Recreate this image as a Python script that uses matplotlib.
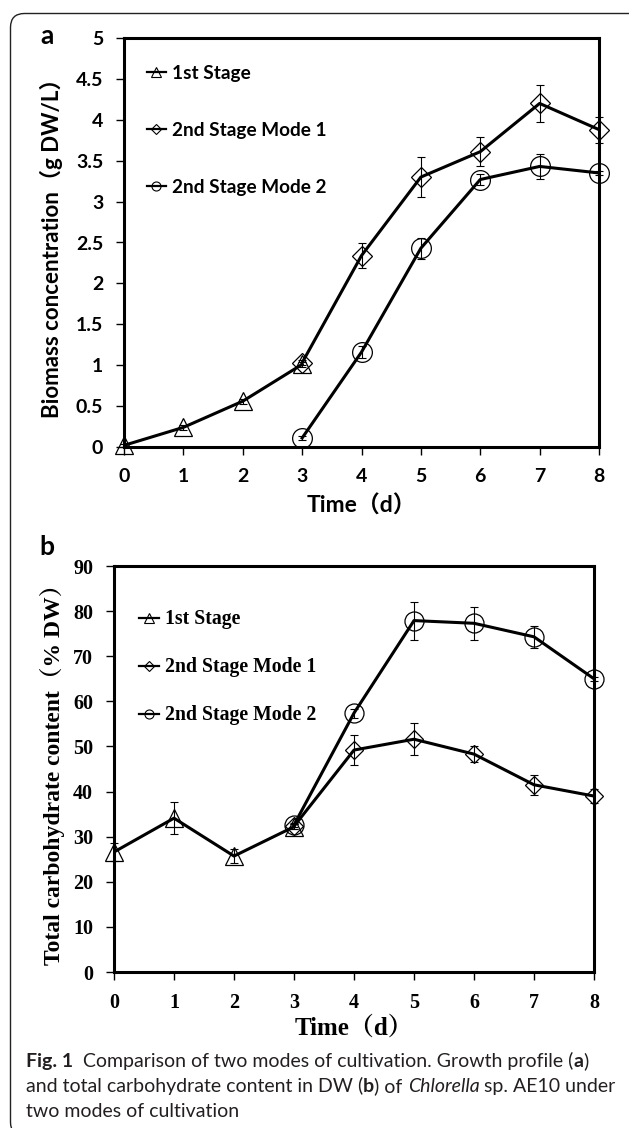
import matplotlib
matplotlib.use('Agg')
import matplotlib.pyplot as plt
from matplotlib.patches import FancyBboxPatch
from matplotlib.lines import Line2D
from matplotlib.transforms import IdentityTransform

# ---- data ----
days_first = [0, 1, 2, 3]
days_second = [3, 4, 5, 6, 7, 8]

# (a) biomass, g DW/L
biomass_stage1 = [0.02, 0.24, 0.56, 1.01]
biomass_stage1_err = [0.02, 0.03, 0.03, 0.03]
biomass_mode1 = [1.03, 2.34, 3.30, 3.61, 4.20, 3.88]
biomass_mode1_err = [0.03, 0.15, 0.24, 0.18, 0.23, 0.16]
biomass_mode2 = [0.11, 1.16, 2.43, 3.27, 3.43, 3.35]
biomass_mode2_err = [0.02, 0.07, 0.13, 0.07, 0.15, 0.02]

# (b) carbohydrate, % DW
carb_stage1 = [26.6, 34.1, 25.7, 32.2]
carb_stage1_err = [2.0, 3.6, 1.6, 0.5]
carb_mode1 = [32.3, 49.2, 51.6, 48.3, 41.5, 39.0]
carb_mode1_err = [0.5, 3.4, 3.5, 1.8, 2.2, 1.5]
carb_mode2 = [32.6, 57.4, 77.9, 77.3, 74.3, 65.0]
carb_mode2_err = [0.5, 1.0, 4.2, 3.6, 2.5, 0.5]

labels = ['1st Stage', '2nd Stage Mode 1', '2nd Stage Mode 2']
x_ticks = [0, 1, 2, 3, 4, 5, 6, 7, 8]
a_yticks = [0, 0.5, 1, 1.5, 2, 2.5, 3, 3.5, 4, 4.5, 5]
a_yticklabels = ['0', '0.5', '1', '1.5', '2', '2.5', '3', '3.5', '4', '4.5', '5']
b_yticks = [0, 10, 20, 30, 40, 50, 60, 70, 80, 90]

W, H = 629, 1128
SANS = ['Lato', 'Noto Sans CJK SC']
SERIF = ['Liberation Serif', 'Noto Serif CJK SC', 'Noto Sans CJK SC']
CAP = ['Lato', 'DejaVu Sans']


def style_axes(ax, family, size):
    for s in ax.spines.values():
        s.set_linewidth(2.2)
    ax.tick_params(direction='out', length=6, width=1.0, pad=9, labelsize=size)
    ax.tick_params(axis='both', which='both', top=False, right=False)
    for lab in ax.get_xticklabels() + ax.get_yticklabels():
        lab.set_fontfamily(family)
        lab.set_fontweight('bold')


def points(ax, xs, ys, err, marker, ms):
    ax.errorbar(xs, ys, yerr=err, fmt='none', ecolor='black', elinewidth=0.8,
                capsize=3, capthick=0.8, zorder=3, clip_on=False)
    ax.plot(xs, ys, linestyle='none', marker=marker, ms=ms, mfc='none',
            mec='black', mew=0.9, zorder=4, clip_on=False)


def legend(ax, family, size, spacing, anchor):
    handles = []
    for m in ['^', 'D', 'o']:
        handles.append(Line2D([], [], color='black', lw=1.6, marker=m,
                              ms=5 if m == 'D' else 6.5,
                              mfc='none', mec='black', mew=0.8))
    leg = ax.legend(handles, labels, loc='upper left', bbox_to_anchor=anchor,
                    frameon=False, handlelength=1.0, handletextpad=0.3,
                    labelspacing=spacing, borderpad=0, borderaxespad=0,
                    prop={'family': family, 'weight': 'bold', 'size': size})
    return leg


fig = plt.figure(figsize=(W / 100, H / 100), dpi=100)

# ---------------- panel a ----------------
ax1 = fig.add_axes([124 / W, 1 - 447 / H, 475 / W, 409 / H])
ax1.set_xlim(0, 8)
ax1.set_ylim(0, 5)
ax1.plot(days_first, biomass_stage1, color='black', lw=2.2, zorder=2)
ax1.plot(days_second, biomass_mode1, color='black', lw=2.2, zorder=2)
ax1.plot(days_second, biomass_mode2, color='black', lw=2.2, zorder=2)
points(ax1, days_first, biomass_stage1, biomass_stage1_err, '^', 13.5)
points(ax1, days_second, biomass_mode1, biomass_mode1_err, 'D', 10)
points(ax1, days_second, biomass_mode2, biomass_mode2_err, 'o', 14.2)
ax1.set_xticks(x_ticks)
ax1.set_yticks(a_yticks)
ax1.set_yticklabels(a_yticklabels)
style_axes(ax1, SANS, 14)
ax1.set_xlabel('Time（d）', family=SANS, weight='bold', size=16.5, labelpad=7)
ax1.set_ylabel('Biomass concentration（g DW/L）', family=SANS, weight='bold', size=16, labelpad=9)
legend(ax1, SANS, 13.7, 2.1, (0.048, 0.935))
fig.text(47 / W, 1 - 36 / H, 'a', family=SANS, weight='bold', size=19, ha='center', va='center')

# ---------------- panel b ----------------
ax2 = fig.add_axes([114 / W, 1 - 972 / H, 480 / W, 406 / H])
ax2.set_xlim(0, 8)
ax2.set_ylim(0, 90)
ax2.plot(days_first, carb_stage1, color='black', lw=2.2, zorder=2)
ax2.plot(days_second, carb_mode1, color='black', lw=2.2, zorder=2)
ax2.plot(days_second, carb_mode2, color='black', lw=2.2, zorder=2)
points(ax2, days_first, carb_stage1, carb_stage1_err, '^', 13)
points(ax2, days_second, carb_mode1, carb_mode1_err, 'D', 9.5)
points(ax2, days_second, carb_mode2, carb_mode2_err, 'o', 13.7)
ax2.set_xticks(x_ticks)
ax2.set_yticks(b_yticks)
style_axes(ax2, SERIF, 14.5)
ax2.set_xlabel('Time（d）', family=SERIF, weight='bold', size=18, labelpad=2)
ax2.set_ylabel('Total carbohydrate content（% DW）', family=SERIF, weight='bold', size=17, labelpad=6)
legend(ax2, SERIF, 14.2, 1.42, (0.052, 0.893))
fig.text(47 / W, 1 - 547 / H, 'b', family=SANS, weight='bold', size=19, ha='center', va='center')

# ---------------- caption ----------------
frame = FancyBboxPatch((10.5, -8), 650, H - 13.5 + 8, boxstyle='round,pad=0,rounding_size=14',
                       fc='none', ec='#222222', lw=1.0, transform=IdentityTransform())
fig.add_artist(frame)

renderer = fig.canvas.get_renderer()


def text_width(txt, **kw):
    t = fig.text(0, 0, txt + '|', **kw)
    w1 = t.get_window_extent(renderer).width
    t.remove()
    t = fig.text(0, 0, '|', **kw)
    w2 = t.get_window_extent(renderer).width
    t.remove()
    return w1 - w2


def caption_line(x, y, parts, size):
    for txt, weight, style in parts:
        kw = dict(family=CAP, size=size, weight=weight, style=style, color='#231f20')
        fig.text(x / W, 1 - y / H, txt, va='baseline', ha='left', **kw)
        x += text_width(txt, **kw)


cap_size = 14.0
caption_line(26, 1067, [('Fig. 1', 'bold', 'normal'),
                        ('  Comparison of two modes of cultivation. Growth profile (', 'normal', 'normal'),
                        ('a', 'bold', 'normal'), (')', 'normal', 'normal')], cap_size)
caption_line(26, 1092, [('and total carbohydrate content in DW (', 'normal', 'normal'),
                        ('b', 'bold', 'normal'), (') of ', 'normal', 'normal'),
                        ('Chlorella', 'normal', 'italic'), (' sp. AE10 under', 'normal', 'normal')], cap_size)
caption_line(26, 1117, [('two modes of cultivation', 'normal', 'normal')], cap_size)

fig.savefig('out.png', dpi=100)
